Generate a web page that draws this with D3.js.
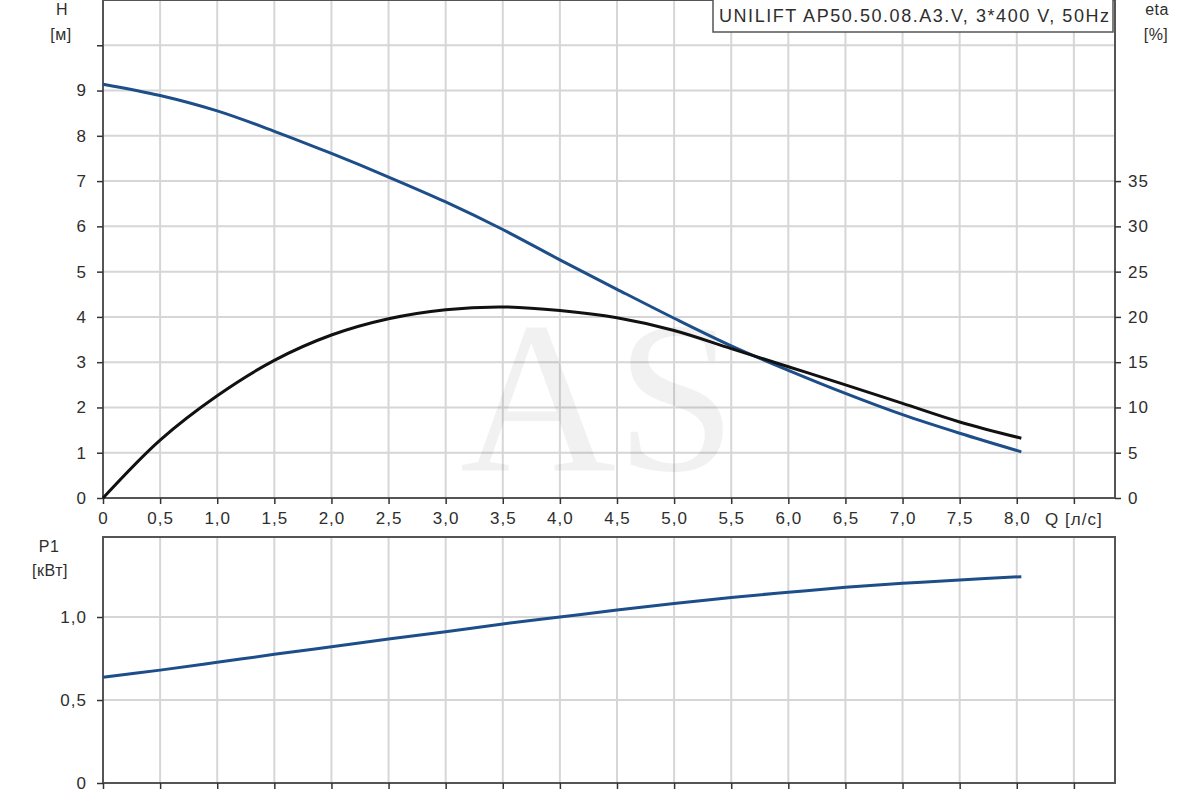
<!DOCTYPE html>
<html>
<head>
<meta charset="utf-8">
<script src="https://cdn.jsdelivr.net/npm/d3@7"></script>
<style>
  body { margin: 0; background: #fff; }
  svg { display: block; font-family: "Liberation Sans", Arial, sans-serif; }
  .tick text { fill: #2e2e2e; font-size: 17px; letter-spacing: 1px; }
  .lbl { fill: #2e2e2e; font-size: 16px; text-anchor: middle; letter-spacing: 0.5px; }
</style>
</head>
<body>
<svg width="1200" height="800"></svg>
<script>
// flow Q [l/s]
var flow = [0, 0.5, 1.0, 1.5, 2.0, 2.5, 3.0, 3.5, 4.0, 4.5, 5.0, 5.5, 6.0, 6.5, 7.0, 7.5, 8.04];
// head H [m]
var head = [9.14, 8.89, 8.55, 8.10, 7.61, 7.09, 6.54, 5.93, 5.26, 4.61, 3.97, 3.36, 2.82, 2.31, 1.84, 1.43, 1.02];
// efficiency eta [%]
var eta = [0, 6.4, 11.3, 15.2, 18.0, 19.8, 20.8, 21.1, 20.7, 19.9, 18.5, 16.5, 14.5, 12.5, 10.45, 8.4, 6.6];
// power P1 [kW]
var power = [0.637, 0.680, 0.727, 0.775, 0.821, 0.867, 0.911, 0.958, 1.000, 1.042, 1.082, 1.118, 1.149, 1.179, 1.203, 1.223, 1.243];

var qTicks = [0, 0.5, 1.0, 1.5, 2.0, 2.5, 3.0, 3.5, 4.0, 4.5, 5.0, 5.5, 6.0, 6.5, 7.0, 7.5, 8.0, 8.5];
var hTicks = [0, 1, 2, 3, 4, 5, 6, 7, 8, 9, 10];
var etaTicks = [0, 5, 10, 15, 20, 25, 30, 35];
var pTicks = [0, 0.5, 1.0];
var title = "UNILIFT AP50.50.08.A3.V, 3*400 V, 50Hz";

var left = 103, right = 1115;
var top1 = 0, bottom1 = 498;
var top2 = 537, bottom2 = 783;

var comma = function(d) { return d === 0 ? "0" : d3.format(".1f")(d).replace(".", ","); };

var x = d3.scaleLinear().domain([0, 8.86]).range([left, right]);
var yH = d3.scaleLinear().domain([0, 11]).range([bottom1, top1]);
var yEta = d3.scaleLinear().domain([0, 55]).range([bottom1, top1]);
var yP = d3.scaleLinear().domain([0, 1.482]).range([bottom2, top2]);

var svg = d3.select('svg');

// grid, upper
svg.append('g').selectAll('line')
    .data(qTicks.filter(d => d > 0))
    .enter().append('line')
    .attr('x1', d => x(d)).attr('x2', d => x(d))
    .attr('y1', top1).attr('y2', bottom1)
    .attr('stroke', '#d6d6d6').attr('stroke-width', 2);
svg.append('g').selectAll('line')
    .data(hTicks.filter(d => d > 0))
    .enter().append('line')
    .attr('x1', left).attr('x2', right)
    .attr('y1', d => yH(d)).attr('y2', d => yH(d))
    .attr('stroke', '#d6d6d6').attr('stroke-width', 2);

// grid, lower
svg.append('g').selectAll('line')
    .data(qTicks.filter(d => d > 0))
    .enter().append('line')
    .attr('x1', d => x(d)).attr('x2', d => x(d))
    .attr('y1', top2).attr('y2', bottom2)
    .attr('stroke', '#d6d6d6').attr('stroke-width', 2);
svg.append('g').selectAll('line')
    .data(pTicks.filter(d => d > 0))
    .enter().append('line')
    .attr('x1', left).attr('x2', right)
    .attr('y1', d => yP(d)).attr('y2', d => yP(d))
    .attr('stroke', '#d6d6d6').attr('stroke-width', 2);

// watermark
svg.append('text')
    .text('AS')
    .attr('x', 598).attr('y', 470)
    .style('text-anchor', 'middle')
    .style('font-family', '"Liberation Serif", "Times New Roman", serif')
    .style('font-size', '216px')
    .style('fill', '#000')
    .style('opacity', 0.05);

// frames
svg.append('rect')
    .attr('x', left).attr('y', top1)
    .attr('width', right - left).attr('height', bottom1 - top1)
    .attr('fill', 'none').attr('stroke', '#555').attr('stroke-width', 2);
svg.append('rect')
    .attr('x', left).attr('y', top2)
    .attr('width', right - left).attr('height', bottom2 - top2)
    .attr('fill', 'none').attr('stroke', '#555').attr('stroke-width', 2);

// axes
function styleAxis(g) {
  g.select('.domain').remove();
  g.selectAll('.tick line').attr('stroke', '#333').attr('stroke-width', 1.5);
}

svg.append('g')
    .attr('transform', 'translate(' + left + ',0)')
    .call(d3.axisLeft(yH).tickValues(hTicks).tickSize(6).tickPadding(10)
          .tickFormat(d => d === 10 ? '' : d))
    .call(styleAxis);

svg.append('g')
    .attr('transform', 'translate(' + right + ',0)')
    .call(d3.axisRight(yEta).tickValues(etaTicks).tickSize(6).tickPadding(7))
    .call(styleAxis);

svg.append('g')
    .attr('transform', 'translate(0,' + bottom1 + ')')
    .call(d3.axisBottom(x).tickValues(qTicks).tickSize(6).tickPadding(8)
          .tickFormat(d => d === 8.5 ? '' : comma(d)))
    .call(styleAxis);

svg.append('g')
    .attr('transform', 'translate(' + left + ',0)')
    .call(d3.axisLeft(yP).tickValues(pTicks).tickSize(6).tickPadding(10).tickFormat(comma))
    .call(styleAxis);

svg.append('g')
    .attr('transform', 'translate(0,' + bottom2 + ')')
    .call(d3.axisBottom(x).tickValues(qTicks).tickSize(6).tickFormat(''))
    .call(styleAxis);

// axis titles
svg.append('text').classed('lbl', true).text('H').attr('x', 62).attr('y', 15);
svg.append('text').classed('lbl', true).text('[м]').attr('x', 61).attr('y', 40);
svg.append('text').classed('lbl', true).text('eta').attr('x', 1157).attr('y', 15);
svg.append('text').classed('lbl', true).text('[%]').attr('x', 1156).attr('y', 40);
svg.append('text').classed('lbl', true).text('P1').attr('x', 49).attr('y', 552);
svg.append('text').classed('lbl', true).text('[кВт]').attr('x', 50).attr('y', 576);
svg.append('text').classed('lbl', true).text('Q [л/с]')
    .attr('x', x(8.5)).attr('y', 525).style('font-size', '17px').style('letter-spacing', '1px');

// title box
svg.append('rect')
    .attr('x', 713).attr('y', -2)
    .attr('width', 400).attr('height', 34)
    .attr('fill', '#fff').attr('stroke', '#555').attr('stroke-width', 1.5);
svg.append('text')
    .text(title)
    .attr('x', 719).attr('y', 22)
    .attr('textLength', 390)
    .attr('lengthAdjust', 'spacing')
    .style('font-size', '18px')
    .style('fill', '#2e2e2e');

// curves
var pts = flow.map((q, i) => ({q: q, h: head[i], e: eta[i], p: power[i]}));

svg.append('path')
    .datum(pts)
    .attr('fill', 'none').attr('stroke', '#1d4e89').attr('stroke-width', 3)
    .attr('d', d3.line().x(d => x(d.q)).y(d => yH(d.h)).curve(d3.curveCatmullRom.alpha(0.5)));

svg.append('path')
    .datum(pts)
    .attr('fill', 'none').attr('stroke', '#111').attr('stroke-width', 3)
    .attr('d', d3.line().x(d => x(d.q)).y(d => yEta(d.e)).curve(d3.curveCatmullRom.alpha(0.5)));

svg.append('path')
    .datum(pts)
    .attr('fill', 'none').attr('stroke', '#1d4e89').attr('stroke-width', 3)
    .attr('d', d3.line().x(d => x(d.q)).y(d => yP(d.p)).curve(d3.curveCatmullRom.alpha(0.5)));
</script>
</body>
</html>
